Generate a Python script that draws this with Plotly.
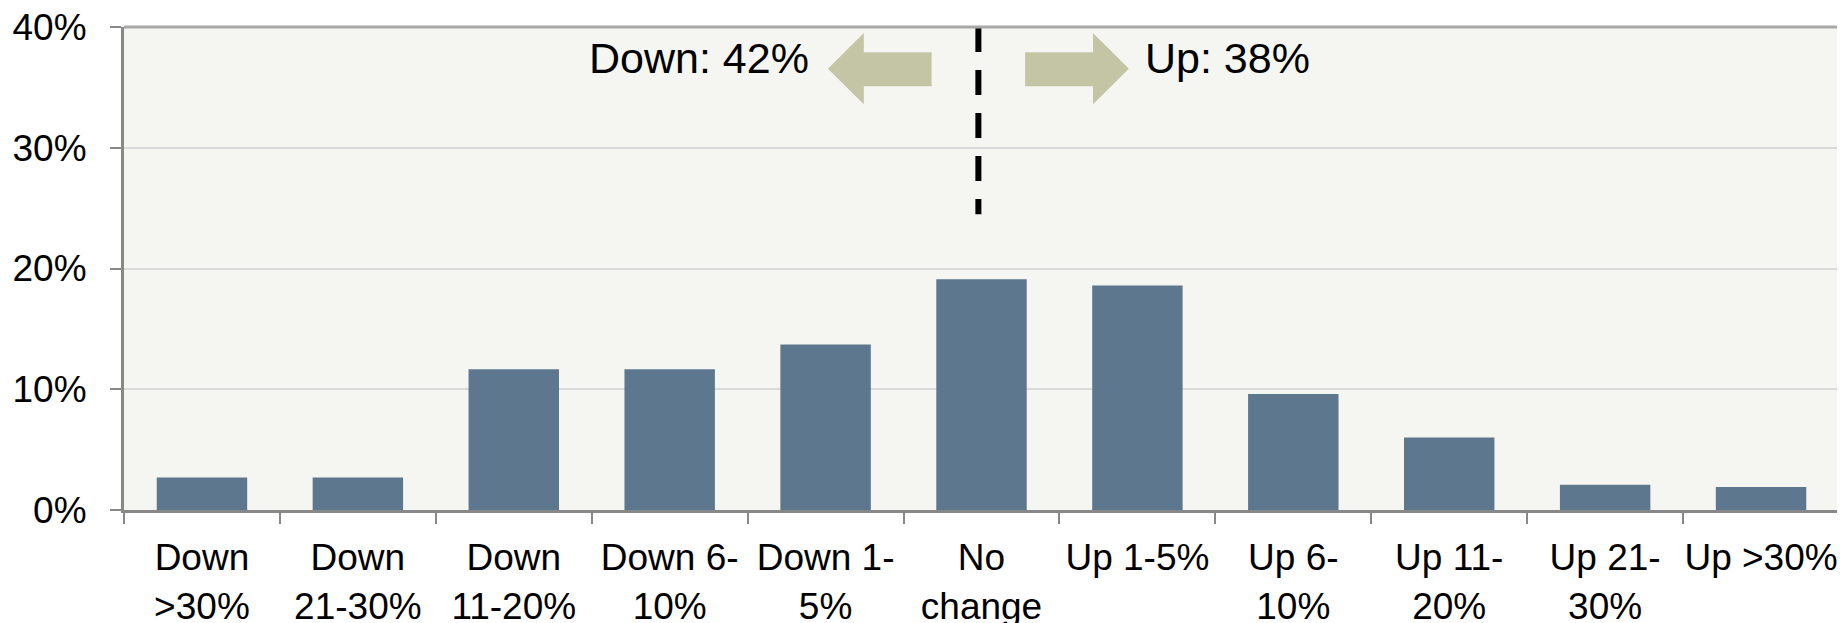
import plotly.graph_objects as go

categories = ["Down<br>&gt;30%", "Down<br>21-30%", "Down<br>11-20%", "Down 6-<br>10%",
              "Down 1-<br>5%", "No<br>change", "Up 1-5%", "Up 6-<br>10%", "Up 11-<br>20%",
              "Up 21-<br>30%", "Up &gt;30%"]
shares = [0.027, 0.027, 0.1165, 0.1165, 0.137, 0.191, 0.186, 0.096, 0.060, 0.021, 0.019]
y_ticks = [0, 0.1, 0.2, 0.3, 0.4]
down_label = "Down: 42%"
up_label = "Up: 38%"

FONT = "Liberation Sans, Arial, sans-serif"
BAR = "#5D778F"
ARROW = "#C3C5A5"

fig = go.Figure()
fig.add_trace(go.Bar(x=categories, y=shares, marker_color=BAR,
                     marker_line_width=0, width=0.58, hoverinfo="skip"))

# divider and arrows around the "No change" category
cx = 4.98
fig.add_shape(type="line", x0=cx, x1=cx, y0=0.40, y1=0.245, xref="x", yref="y",
              line=dict(color="black", width=6, dash="25px,18px"), layer="above")

y_mid, y_head_top, y_head_bot, y_sh_top, y_sh_bot = 0.3655, 0.395, 0.336, 0.379, 0.351
inner, base, tip = 0.30, 0.735, 0.965
for s in (-1, 1):
    xi, xb, xt = cx + s * inner, cx + s * base, cx + s * tip
    path = (f"M {xi},{y_sh_top} L {xb},{y_sh_top} L {xb},{y_head_top} L {xt},{y_mid} "
            f"L {xb},{y_head_bot} L {xb},{y_sh_bot} L {xi},{y_sh_bot} Z")
    fig.add_shape(type="path", path=path, xref="x", yref="y", fillcolor=ARROW,
                  line=dict(width=0), layer="above")

fig.add_annotation(x=3.905, y=0.3742, xref="x", yref="y", text=down_label, showarrow=False,
                   xanchor="right", yanchor="middle", font=dict(size=43, color="black", family=FONT))
fig.add_annotation(x=6.035, y=0.3742, xref="x", yref="y", text=up_label, showarrow=False,
                   xanchor="left", yanchor="middle", font=dict(size=43, color="black", family=FONT))

# top and right border of the plot area
fig.add_shape(type="line", x0=0, x1=1, y0=1, y1=1, xref="paper", yref="paper",
              line=dict(color="#A8A8A8", width=3), layer="above")
fig.add_shape(type="line", x0=1, x1=1, y0=0, y1=1, xref="paper", yref="paper",
              line=dict(color="#A8A8A8", width=3), layer="above")

# page body has an 8px margin, so margins are reduced by 8 to land the plot area in place
fig.update_layout(
    width=1845, height=623,
    margin=dict(l=116, r=14, t=19, b=121),
    paper_bgcolor="white", plot_bgcolor="#F5F6F1",
    showlegend=False,
    font=dict(family=FONT, size=37, color="black"),
)
fig.update_xaxes(
    type="category", automargin=False, ticklabeloverflow="allow",
    tickson="boundaries",
    ticks="outside", ticklen=11, tickwidth=2, tickcolor="#888888",
    showline=True, linecolor="#888888", linewidth=3, showgrid=False,
    tickfont=dict(size=37, family=FONT, color="black"), tickangle=0,
    ticklabelstandoff=13,
)
fig.update_yaxes(
    range=[0, 0.4], tickvals=y_ticks, tickformat=".0%", automargin=False,
    ticklabeloverflow="allow",
    ticks="outside", ticklen=11, tickwidth=2, tickcolor="#888888",
    showline=True, linecolor="#888888", linewidth=3,
    showgrid=True, gridcolor="#D9D9D9", gridwidth=2, zeroline=False,
    tickfont=dict(size=37, family=FONT, color="black"),
    ticklabelstandoff=16,
)

fig.write_html("out.html")
